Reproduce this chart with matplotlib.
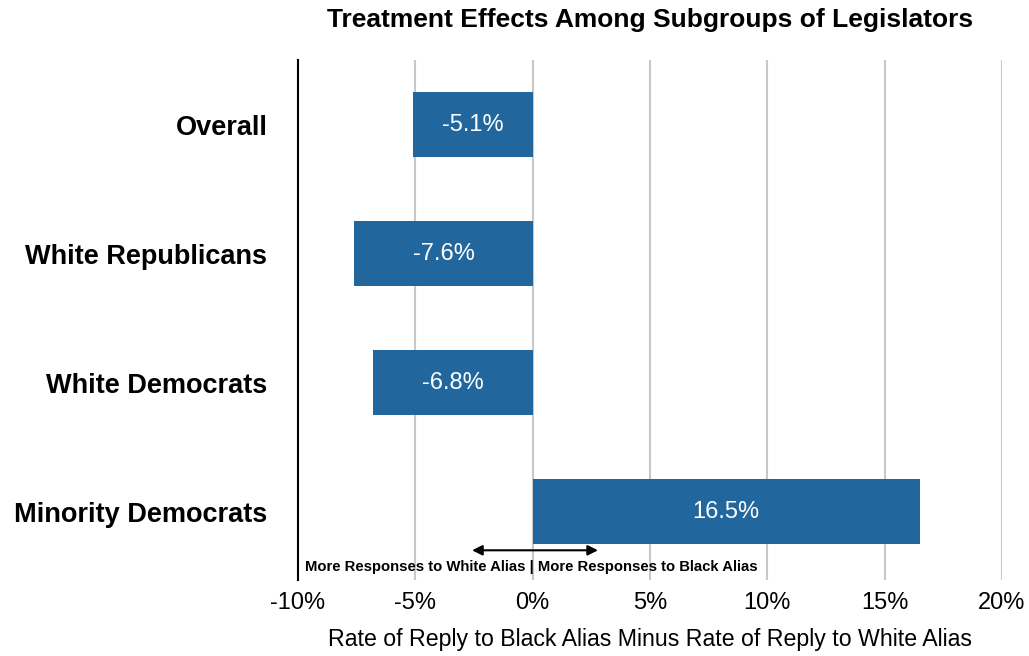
import matplotlib
matplotlib.use("Agg")
import matplotlib.pyplot as plt

categories = ["Overall", "White Republicans", "White Democrats", "Minority Democrats"]
values = [-5.1, -7.6, -6.8, 16.5]
xticks = [-10, -5, 0, 5, 10, 15, 20]
xtick_labels = ["-10%", "-5%", "0%", "5%", "10%", "15%", "20%"]

plt.rcParams['font.family'] = ['Liberation Sans', 'DejaVu Sans']

fig = plt.figure(figsize=(10.29, 6.56), dpi=100)
ax = fig.add_axes([0.2896, 0.1159, 0.6842, 0.7926])

bar_color = "#21679d"
ypos = list(range(len(categories)))
for xv in xticks[1:]:
    ax.axvline(xv, color="#c8c8c8", lw=1.5, zorder=0)
ax.barh(ypos, values, height=0.5, color=bar_color, zorder=2)
for y, v in zip(ypos, values):
    ax.text(v / 2, y, f"{v:.1f}%", color="white", ha="center", va="center", fontsize=17, zorder=3)

ax.set_xlim(-10, 20)
ax.set_ylim(3.53, -0.5)
ax.set_yticks(ypos)
ax.set_yticklabels(categories, fontsize=19.5, fontweight="bold")
ax.set_xticks(xticks)
ax.set_xticklabels(xtick_labels, fontsize=17)
ax.tick_params(axis="x", length=0, pad=9)
ax.tick_params(axis="y", length=0, pad=22)
for s in ["top", "right", "bottom"]:
    ax.spines[s].set_visible(False)
ax.spines["left"].set_color("black")
ax.spines["left"].set_linewidth(1.5)

ax.set_xlabel("Rate of Reply to Black Alias Minus Rate of Reply to White Alias", fontsize=16.7, labelpad=10)
fig.text(0.632, 0.969, "Treatment Effects Among Subgroups of Legislators", ha="center", va="center",
         fontsize=19, fontweight="bold")

ax.annotate("", xy=(-2.7, 3.3), xytext=(2.9, 3.3),
            arrowprops=dict(arrowstyle="<|-|>", color="black", lw=1.5, mutation_scale=15))
ax.text(-9.7, 3.43, "More Responses to White Alias | More Responses to Black Alias",
        fontsize=10.7, fontweight="bold", ha="left", va="center")

fig.savefig("out.png", dpi=100)
